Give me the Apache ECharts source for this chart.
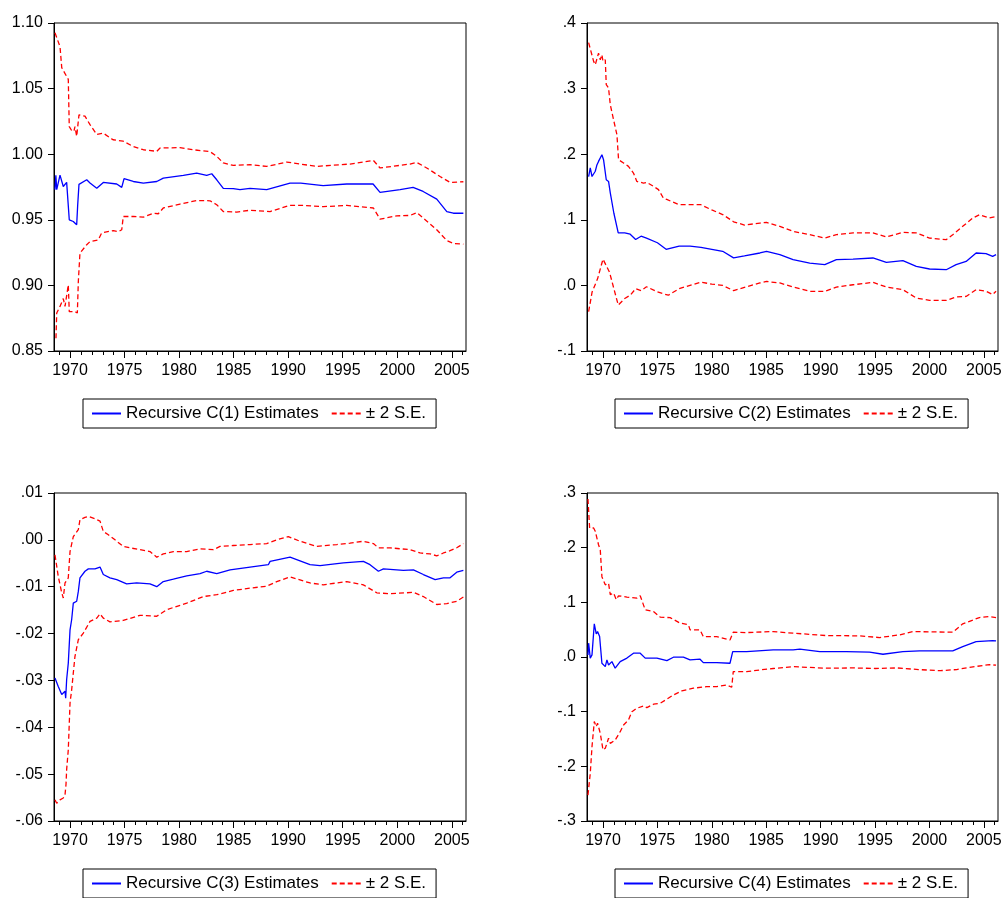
<!DOCTYPE html>
<html><head><meta charset="utf-8">
<script src="https://cdn.jsdelivr.net/npm/echarts@6/dist/echarts.min.js"></script>
<style>html,body{margin:0;padding:0;background:#fff}#c{width:1005px;height:898px}</style>
</head><body><div id="c"></div>
<script>
// ---------- DATA ([year, value]) ----------
const p1Est = [[1968.62,0.973],[1968.7,0.984],[1968.78,0.973],[1969.08,0.984],[1969.38,0.9754],[1969.69,0.9785],[1969.93,0.950],[1970.3,0.9487],[1970.61,0.9462],[1970.7,0.961],[1970.82,0.977],[1971.53,0.9805],[1971.83,0.978],[1972.45,0.974],[1973.05,0.9785],[1974.28,0.9773],[1974.74,0.9747],[1974.95,0.9813],[1975.8,0.9792],[1976.72,0.978],[1977.95,0.9792],[1978.55,0.9818],[1980.39,0.9838],[1981.61,0.9856],[1982.53,0.9838],[1982.99,0.9851],[1983.45,0.9805],[1984.05,0.974],[1984.97,0.9737],[1985.58,0.973],[1986.5,0.974],[1988.03,0.973],[1990.17,0.978],[1991.15,0.978],[1993.2,0.976],[1995.37,0.9773],[1997.78,0.9773],[1998.42,0.9709],[2000.26,0.973],[2001.45,0.9747],[2002.37,0.9716],[2003.62,0.9658],[2004.54,0.9563],[2005.14,0.955],[2006.06,0.955]];
const p1Upper = [[1968.62,1.0925],[1969.08,1.082],[1969.24,1.066],[1969.84,1.057],[1969.93,1.021],[1970.15,1.018],[1970.36,1.0175],[1970.45,1.021],[1970.61,1.0136],[1970.82,1.030],[1971.37,1.029],[1971.83,1.0225],[1972.45,1.015],[1973.05,1.016],[1973.94,1.011],[1974.86,1.010],[1975.77,1.006],[1976.72,1.0034],[1977.95,1.0022],[1978.25,1.0047],[1980.08,1.005],[1981.28,1.0034],[1982.83,1.002],[1983.45,0.9984],[1984.05,0.9933],[1984.97,0.9915],[1986.5,0.992],[1988.03,0.9907],[1989.87,0.994],[1992.62,0.9907],[1995.67,0.9925],[1997.81,0.9953],[1998.42,0.9895],[2001.17,0.9925],[2001.79,0.9937],[2002.7,0.9895],[2003.92,0.983],[2004.84,0.9785],[2006.06,0.979]];
const p1Lower = [[1968.71,0.8597],[1968.78,0.879],[1969.08,0.884],[1969.38,0.890],[1969.54,0.884],[1969.84,0.9004],[1969.93,0.880],[1970.45,0.880],[1970.67,0.879],[1970.76,0.903],[1970.91,0.9246],[1971.53,0.931],[1971.83,0.9334],[1972.59,0.9347],[1972.9,0.940],[1973.97,0.9418],[1974.43,0.941],[1974.74,0.9424],[1974.88,0.9525],[1975.8,0.9525],[1976.72,0.952],[1977.63,0.955],[1978.09,0.9546],[1978.55,0.959],[1980.08,0.962],[1981.61,0.9647],[1982.83,0.9645],[1983.45,0.9615],[1984.05,0.9563],[1985.28,0.9559],[1986.5,0.9573],[1988.34,0.9563],[1990.17,0.961],[1991.39,0.961],[1993.22,0.960],[1995.37,0.961],[1997.81,0.959],[1998.42,0.9505],[1999.95,0.953],[2001.17,0.9533],[2001.79,0.9555],[2002.39,0.9513],[2003.62,0.9424],[2004.54,0.9342],[2005.14,0.932],[2006.06,0.9314]];

const p2Est = [[1968.68,0.166],[1968.83,0.179],[1968.99,0.166],[1969.29,0.174],[1969.45,0.184],[1969.59,0.189],[1969.75,0.1866],[1969.9,0.1992],[1970.05,0.1916],[1970.21,0.194],[1970.3,0.161],[1970.51,0.1585],[1970.67,0.141],[1971.0,0.11],[1971.4,0.08],[1972.0,0.08],[1972.5,0.078],[1973.0,0.07],[1973.5,0.075],[1974.0,0.072],[1975.0,0.065],[1975.8,0.055],[1977.0,0.06],[1978.0,0.06],[1979.0,0.058],[1980.0,0.055],[1981.0,0.052],[1982.0,0.042],[1983.0,0.045],[1984.42,0.0494],[1985.03,0.052],[1986.25,0.0468],[1987.47,0.0392],[1989.0,0.0341],[1990.38,0.0316],[1991.45,0.0392],[1992.98,0.0402],[1994.81,0.0418],[1996.04,0.035],[1997.56,0.0377],[1998.79,0.029],[2000.01,0.025],[2001.54,0.0239],[2002.45,0.0316],[2003.37,0.0366],[2004.29,0.0494],[2005.2,0.0483],[2005.81,0.0442],[2006.12,0.0468]];
const p2Upper = [[1968.68,0.370],[1968.83,0.372],[1969.14,0.3415],[1969.29,0.3364],[1969.59,0.354],[1969.75,0.344],[1969.9,0.3517],[1970.0,0.3415],[1970.21,0.344],[1970.3,0.306],[1970.51,0.301],[1970.67,0.2755],[1970.97,0.2526],[1971.28,0.2297],[1971.43,0.1916],[1971.89,0.1866],[1972.34,0.1814],[1972.8,0.1713],[1973.11,0.1585],[1973.72,0.156],[1974.03,0.157],[1974.64,0.151],[1975.1,0.146],[1975.55,0.133],[1975.86,0.131],[1977.0,0.123],[1979.0,0.123],[1980.0,0.115],[1981.0,0.108],[1982.0,0.097],[1983.0,0.092],[1984.42,0.095],[1985.03,0.096],[1986.25,0.090],[1987.47,0.0823],[1989.0,0.0773],[1990.38,0.0722],[1991.45,0.0773],[1992.98,0.080],[1994.81,0.080],[1996.04,0.0738],[1997.56,0.0808],[1998.79,0.080],[2000.01,0.0722],[2001.54,0.0697],[2002.14,0.0773],[2003.06,0.090],[2003.98,0.1027],[2004.59,0.1078],[2005.5,0.1027],[2006.12,0.105]];
const p2Lower = [[1968.68,-0.04],[1969.0,-0.01],[1969.5,0.01],[1970.0,0.04],[1970.3,0.03],[1970.6,0.02],[1971.0,-0.005],[1971.4,-0.03],[1972.0,-0.02],[1972.5,-0.015],[1973.0,-0.005],[1973.5,-0.008],[1974.0,-0.002],[1975.0,-0.01],[1976.0,-0.015],[1977.0,-0.005],[1978.0,0.0],[1979.0,0.005],[1980.0,0.002],[1981.0,0.0],[1982.0,-0.008],[1983.0,-0.003],[1984.42,0.0037],[1985.03,0.006],[1986.25,0.0037],[1987.47,-0.0025],[1989.0,-0.009],[1990.38,-0.009],[1991.45,-0.0025],[1992.98,0.001],[1994.81,0.0046],[1996.04,-0.0025],[1997.56,-0.0066],[1998.79,-0.0192],[2000.01,-0.0229],[2001.54,-0.0229],[2002.45,-0.0177],[2003.37,-0.0168],[2004.29,-0.0066],[2005.2,-0.009],[2005.81,-0.014],[2006.12,-0.009]];

const p3Est = [[1968.62,-0.0295],[1968.92,-0.0313],[1969.24,-0.033],[1969.38,-0.0334],[1969.54,-0.0323],[1969.6,-0.0338],[1969.69,-0.0298],[1969.84,-0.0263],[1970.0,-0.0192],[1970.15,-0.017],[1970.3,-0.0135],[1970.61,-0.0131],[1970.76,-0.011],[1970.91,-0.0081],[1971.37,-0.0067],[1971.68,-0.0062],[1972.29,-0.0062],[1972.75,-0.0058],[1973.05,-0.0074],[1973.66,-0.0081],[1974.28,-0.0085],[1975.19,-0.0094],[1976.11,-0.0092],[1977.33,-0.0094],[1977.95,-0.010],[1978.55,-0.0089],[1979.47,-0.0084],[1980.7,-0.0077],[1981.92,-0.0072],[1982.53,-0.0067],[1983.45,-0.0072],[1984.67,-0.0064],[1986.5,-0.0058],[1988.18,-0.0053],[1988.34,-0.0046],[1990.17,-0.0037],[1992.0,-0.0053],[1992.92,-0.0055],[1995.06,-0.0049],[1996.89,-0.0046],[1997.5,-0.0053],[1998.27,-0.0067],[1998.73,-0.0062],[2000.56,-0.0065],[2001.48,-0.0064],[2002.39,-0.0074],[2003.47,-0.0085],[2004.23,-0.0081],[2004.84,-0.0081],[2005.45,-0.0069],[2006.06,-0.0065]];
const p3Upper = [[1968.62,-0.0032],[1968.92,-0.0078],[1969.24,-0.0113],[1969.38,-0.0124],[1969.54,-0.0092],[1969.84,-0.0081],[1970.0,-0.0025],[1970.3,0.0007],[1970.76,0.0022],[1970.91,0.0043],[1971.37,0.0048],[1971.68,0.005],[1972.29,0.0045],[1972.75,0.004],[1973.05,0.0018],[1973.51,0.0011],[1974.12,0.0],[1974.88,-0.0014],[1975.5,-0.0017],[1976.42,-0.0021],[1977.33,-0.0025],[1977.95,-0.0037],[1978.55,-0.003],[1979.47,-0.0025],[1980.7,-0.0025],[1981.92,-0.0019],[1983.14,-0.0021],[1983.75,-0.0014],[1984.97,-0.0012],[1986.5,-0.001],[1988.03,-0.0008],[1988.95,0.0],[1990.01,0.0007],[1991.09,-0.0003],[1992.62,-0.0014],[1994.45,-0.001],[1995.67,-0.0007],[1996.89,-0.0003],[1997.81,-0.0008],[1998.27,-0.0017],[1999.34,-0.0017],[2001.17,-0.0021],[2002.09,-0.0028],[2003.01,-0.003],[2003.62,-0.0034],[2004.23,-0.0028],[2004.84,-0.0023],[2005.45,-0.0017],[2006.06,-0.0008]];
const p3Lower = [[1968.62,-0.0555],[1968.78,-0.0562],[1969.08,-0.0555],[1969.38,-0.0551],[1969.54,-0.0544],[1969.63,-0.0522],[1969.69,-0.049],[1969.84,-0.0448],[1970.0,-0.0348],[1970.15,-0.032],[1970.3,-0.0284],[1970.45,-0.0249],[1970.76,-0.0213],[1971.22,-0.0199],[1971.83,-0.0174],[1972.45,-0.0167],[1972.75,-0.0158],[1973.05,-0.0167],[1973.66,-0.0175],[1974.88,-0.0172],[1976.42,-0.0161],[1977.95,-0.0163],[1978.86,-0.0149],[1980.7,-0.0135],[1982.22,-0.0121],[1983.45,-0.0117],[1984.97,-0.0108],[1986.5,-0.0103],[1988.03,-0.0099],[1988.95,-0.0089],[1990.17,-0.0079],[1992.0,-0.0092],[1993.22,-0.0096],[1995.37,-0.0089],[1996.89,-0.0096],[1998.12,-0.0113],[1999.34,-0.0115],[2001.48,-0.0112],[2002.39,-0.0121],[2003.62,-0.0138],[2004.54,-0.0136],[2005.45,-0.0131],[2006.06,-0.0122]];

const p4Est = [[1968.62,0.0038],[1968.68,0.0253],[1968.83,-0.002],[1968.99,0.0038],[1969.2,0.0606],[1969.38,0.0423],[1969.5,0.0465],[1969.69,0.0374],[1969.9,-0.0114],[1970.21,-0.0176],[1970.36,-0.0053],[1970.51,-0.0145],[1970.82,-0.0084],[1971.12,-0.0205],[1971.58,-0.0084],[1972.2,-0.002],[1972.8,0.007],[1973.42,0.007],[1973.88,-0.002],[1974.95,-0.002],[1975.87,-0.0066],[1976.47,-0.0004],[1977.39,-0.0004],[1978.0,-0.0053],[1978.92,-0.004],[1979.22,-0.0103],[1980.45,-0.0103],[1981.67,-0.0114],[1981.92,0.010],[1983.2,0.010],[1985.64,0.013],[1987.47,0.013],[1988.09,0.0143],[1989.92,0.010],[1992.37,0.010],[1994.5,0.0088],[1995.73,0.005],[1997.56,0.010],[1999.09,0.0112],[2002.14,0.0112],[2003.06,0.019],[2004.29,0.0282],[2005.81,0.030],[2006.12,0.0295]];
const p4Upper = [[1968.62,0.289],[1968.77,0.236],[1969.14,0.236],[1969.29,0.23],[1969.59,0.2053],[1969.75,0.196],[1969.9,0.147],[1970.21,0.132],[1970.51,0.135],[1970.67,0.114],[1970.97,0.117],[1971.22,0.105],[1971.43,0.112],[1972.2,0.1095],[1973.11,0.1077],[1973.42,0.112],[1973.88,0.0863],[1974.64,0.0832],[1975.25,0.073],[1976.17,0.072],[1977.08,0.062],[1977.85,0.059],[1978.0,0.0496],[1978.92,0.0496],[1979.22,0.0374],[1980.45,0.0374],[1981.67,0.0313],[1981.97,0.0454],[1983.2,0.0447],[1985.64,0.0465],[1987.47,0.0436],[1990.54,0.0392],[1993.59,0.0387],[1995.42,0.0356],[1997.26,0.0405],[1998.48,0.0465],[2002.14,0.0454],[2003.06,0.0606],[2004.59,0.0722],[2005.5,0.074],[2006.12,0.0722]];
const p4Lower = [[1968.62,-0.2526],[1968.83,-0.2128],[1968.99,-0.164],[1969.2,-0.118],[1969.38,-0.1275],[1969.5,-0.121],[1969.75,-0.1396],[1970.0,-0.170],[1970.21,-0.167],[1970.51,-0.1487],[1970.67,-0.158],[1971.12,-0.152],[1971.28,-0.155],[1971.58,-0.1366],[1971.89,-0.1244],[1972.34,-0.1152],[1972.66,-0.100],[1973.11,-0.0938],[1973.72,-0.0896],[1974.03,-0.0927],[1974.64,-0.0864],[1975.25,-0.0846],[1975.86,-0.0773],[1976.47,-0.0694],[1977.24,-0.0621],[1978.3,-0.0571],[1979.53,-0.0542],[1980.45,-0.0542],[1981.37,-0.0511],[1981.83,-0.0553],[1981.97,-0.0267],[1983.2,-0.0267],[1984.42,-0.0237],[1985.64,-0.021],[1987.47,-0.0176],[1990.54,-0.0205],[1993.0,-0.020],[1995.0,-0.021],[1997.0,-0.020],[1999.0,-0.023],[2001.0,-0.025],[2002.5,-0.023],[2004.0,-0.018],[2005.5,-0.014],[2006.12,-0.015]];

const estNames = ['Recursive C(1) Estimates','Recursive C(2) Estimates','Recursive C(3) Estimates','Recursive C(4) Estimates'];
const seName = '\u00b1 2 S.E.';
const xMajor = [1970,1975,1980,1985,1990,1995,2000,2005];
const xMinor = [1969,1970,1971,1972,1973,1974,1975,1976,1977,1978,1979,1980,1981,1982,1983,1984,1985,1986,1987,1988,1989,1990,1991,1992,1993,1994,1995,1996,1997,1998,1999,2000,2001,2002,2003,2004,2005,2006];
const yAxes = [{min:0.85,max:1.10,interval:0.05,lead:true,dec:2},{min:-0.1,max:0.4,interval:0.1,lead:false,dec:1},{min:-0.06,max:0.01,interval:0.01,lead:false,dec:2},{min:-0.3,max:0.3,interval:0.1,lead:false,dec:1}];
const panelData = [[p1Est,p1Upper,p1Lower],[p2Est,p2Upper,p2Lower],[p3Est,p3Upper,p3Lower],[p4Est,p4Upper,p4Lower]];

// ---------- LAYOUT ----------
const grids = [{left:54,top:23,width:412,height:328},{left:587,top:23,width:411,height:328},{left:54,top:493,width:412,height:328},{left:587,top:493,width:411,height:328}];
const legendPos = [{left:83,top:399},{left:615,top:399},{left:83,top:869},{left:615,top:869}];
const FONT = 'Liberation Sans, Arial, sans-serif';
const X0 = 1968.53, X1 = 2006.3;

function fmtY(lead, dec){
  return function(v){
    if (Math.abs(v) < 1e-9) v = 0;
    let s = v.toFixed(dec);
    if (!lead) s = s.replace(/^(-?)0\./,'$1.');
    return s;
  };
}

const option = {animation:false, backgroundColor:'#fff', grid:[], xAxis:[], yAxis:[], series:[], legend:[]};
grids.forEach((g,i)=>{
  option.grid.push(Object.assign({show:true, borderColor:'#000', borderWidth:1, backgroundColor:'transparent'}, g));
  option.xAxis.push({type:'value', gridIndex:i, min:X0, max:X1, position:'bottom',
    axisLine:{show:true, onZero:false, lineStyle:{color:'#000',width:1}},
    axisTick:{show:true, inside:false, length:7, customValues:xMajor, lineStyle:{color:'#000'}},
    axisLabel:{show:true, customValues:xMajor, margin:12, fontSize:16, color:'#000', fontFamily:FONT, formatter:v=>String(Math.round(v))},
    splitLine:{show:false}});
  option.xAxis.push({type:'value', gridIndex:i, min:X0, max:X1, position:'bottom',
    axisLine:{show:false, onZero:false},
    axisTick:{show:true, inside:false, length:4, customValues:xMinor, lineStyle:{color:'#000'}},
    axisLabel:{show:false}, splitLine:{show:false}});
  const ya = yAxes[i];
  option.yAxis.push({type:'value', gridIndex:i, min:ya.min, max:ya.max, interval:ya.interval,
    axisLine:{show:true, onZero:false, lineStyle:{color:'#000',width:1}},
    axisTick:{show:true, inside:false, length:6, lineStyle:{color:'#000'}},
    axisLabel:{margin:11, fontSize:16, color:'#000', fontFamily:FONT, formatter:fmtY(ya.lead, ya.dec), showMinLabel:true, showMaxLabel:true},
    splitLine:{show:false}});
  const [est, up, lo] = panelData[i];
  const base = {type:'line', xAxisIndex:i*2, yAxisIndex:i, showSymbol:false, symbol:'none', silent:true};
  option.series.push(Object.assign({}, base, {name:estNames[i], data:est, lineStyle:{color:'#0000ff', width:1.3}, itemStyle:{color:'#0000ff'}}));
  option.series.push(Object.assign({}, base, {name:seName, data:up, lineStyle:{color:'#ff0000', width:1.3, type:[5,3]}, itemStyle:{color:'#ff0000'}}));
  option.series.push(Object.assign({}, base, {name:seName, data:lo, lineStyle:{color:'#ff0000', width:1.3, type:[5,3]}, itemStyle:{color:'#ff0000'}}));
  option.legend.push({left:legendPos[i].left, top:legendPos[i].top, orient:'horizontal',
    data:[{name:estNames[i]},{name:seName}], borderColor:'#000', borderWidth:1, padding:[6,10,6,8],
    itemWidth:29, itemHeight:14, itemGap:12, selectedMode:false,
    itemStyle:{color:'transparent', borderColor:'transparent', borderWidth:0, opacity:0},
    textStyle:{fontSize:17, color:'#000', fontFamily:FONT}});
});

const chart = echarts.init(document.getElementById('c'), null, {renderer:'canvas'});
chart.setOption(option);
</script></body></html>
